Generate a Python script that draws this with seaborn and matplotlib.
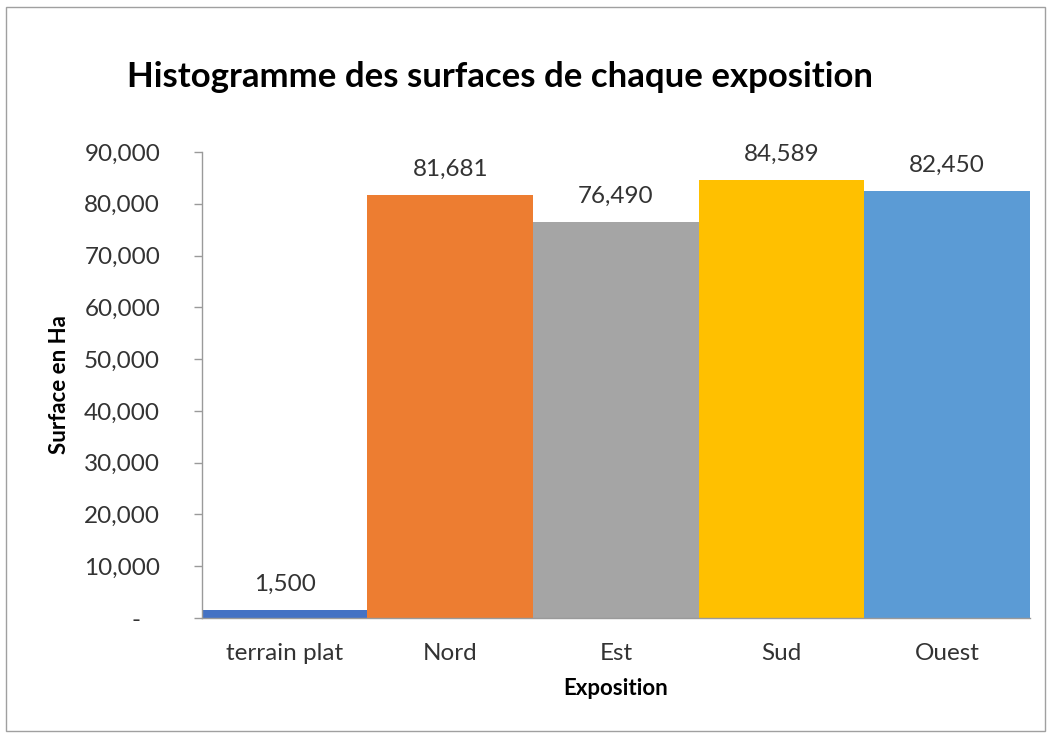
import matplotlib
matplotlib.use("Agg")
import matplotlib.pyplot as plt
import matplotlib.ticker as mticker
from matplotlib.patches import Rectangle
import seaborn as sns
import pandas as pd

# Surface (ha) for each slope exposure
expositions = ["terrain plat", "Nord", "Est", "Sud", "Ouest"]
surfaces = [1500, 81681, 76490, 84589, 82450]
couleurs = ["#4472C4", "#ED7D31", "#A5A5A5", "#FFC000", "#5B9BD5"]
y_ticks = [0, 10000, 20000, 30000, 40000, 50000, 60000, 70000, 80000, 90000]

df = pd.DataFrame({"Exposition": expositions, "Surface": surfaces})

sns.set_theme(style="white")
plt.rcParams["font.family"] = ["Lato", "DejaVu Sans"]

fig = plt.figure(figsize=(10.51, 7.38), dpi=100)
ax = fig.add_axes([0.192, 0.1626, 0.788, 0.6314])

sns.barplot(data=df, x="Exposition", y="Surface", hue="Exposition",
            palette=couleurs, width=1.0, legend=False, ax=ax,
            saturation=1, linewidth=0)

ax.set_xlim(-0.5, len(expositions) - 0.5)
ax.set_ylim(0, 90000)
ax.set_yticks(y_ticks)
# Accounting-style format: zero shown as an indented dash
ax.yaxis.set_major_formatter(
    mticker.FuncFormatter(lambda v, p: "-\u00a0\u00a0\u00a0" if v == 0 else f"{int(v):,}"))

for i, v in enumerate(surfaces):
    ax.annotate(f"{v:,}", xy=(i, v), xytext=(0, 11), textcoords="offset points",
                ha="center", va="bottom", fontsize=17.5, color="#333333")

for side in ["top", "right"]:
    ax.spines[side].set_visible(False)
for side in ["left", "bottom"]:
    ax.spines[side].set_color("#9a9a9a")
    ax.spines[side].set_linewidth(1.0)

ax.tick_params(axis="y", which="major", direction="out", length=6, width=1,
               color="#9a9a9a", labelsize=17.5, labelcolor="#333333", pad=24, left=True)
ax.tick_params(axis="x", length=0, labelsize=17.5, labelcolor="#333333", pad=18)

ax.set_xlabel("Exposition", fontsize=16, fontweight="bold", color="black", labelpad=10)
ax.set_ylabel("Surface en Ha", fontsize=16, fontweight="bold", color="black", labelpad=10)

fig.text(0.476, 0.895, "Histogramme des surfaces de chaque exposition",
         ha="center", va="center", fontsize=25, fontweight="bold", color="black")

# Chart frame
fig.patches.append(Rectangle((6 / 1051, 7 / 738), 1039 / 1051, 724 / 738,
                             transform=fig.transFigure, fill=False,
                             edgecolor="#a0a0a0", linewidth=1.0))

fig.savefig("out.png", dpi=100)
